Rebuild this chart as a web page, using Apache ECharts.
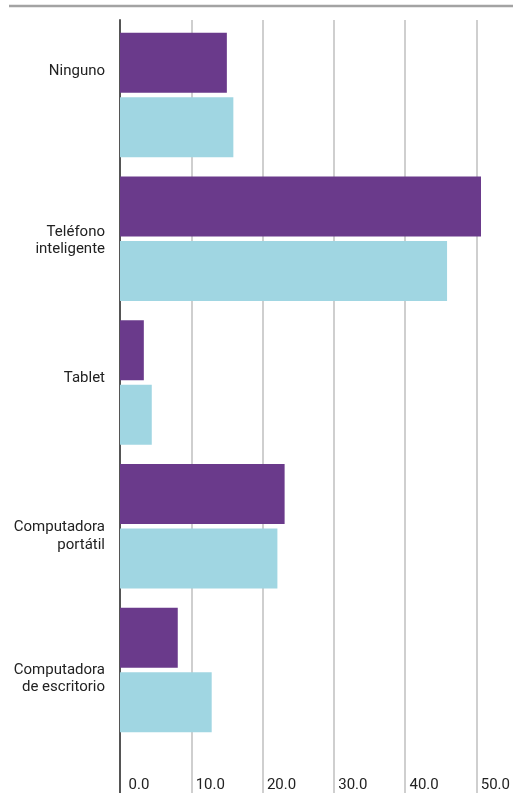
<!DOCTYPE html>
<html>
<head>
<meta charset="utf-8">
<script src="https://cdn.jsdelivr.net/npm/echarts@6/dist/echarts.min.js"></script>
<style>
  html, body { margin: 0; padding: 0; background: #ffffff; }
  #chart { width: 513px; height: 793px; }
</style>
</head>
<body>
<div id="chart"></div>
<script>
// Device categories, top to bottom
const categories = ['Ninguno', 'Teléfono\ninteligente', 'Tablet', 'Computadora\nportátil', 'Computadora\nde escritorio'];
// Two series of percentages per device
const seriesA = [14.8, 50.0, 3.3, 22.8, 8.0];
const seriesB = [15.7, 45.3, 4.4, 21.8, 12.7];
// Value axis ticks
const xTicks = [0, 10, 20, 30, 40, 50];
// Vertical nudge of each category label (px, positive = down)
const labelShift = [-24, 2, -4, 10, 9];

const FONT = 'Roboto, "Noto Sans", sans-serif';
const PURPLE = '#6a3a8b';
const BLUE = '#a0d6e2';

const chart = echarts.init(document.getElementById('chart'), null, { renderer: 'canvas' });

// Spacer lines above or below a label move it off the band centre
const rich = {};
labelShift.forEach((s, i) => {
  rich['g' + i] = { fontSize: 1, lineHeight: Math.max(1, Math.abs(s) * 2) };
});
function categoryLabel(value, index) {
  const s = labelShift[index];
  if (!s) return value;
  const spacer = '{g' + index + '| }';
  return s > 0 ? spacer + '\n' + value : value + '\n' + spacer;
}

chart.setOption({
  animation: false,
  backgroundColor: '#ffffff',
  graphic: [{
    type: 'line',
    shape: { x1: 9, y1: 6, x2: 513, y2: 6 },
    style: { stroke: '#a3a3a3', lineWidth: 2.5 },
    silent: true
  }],
  grid: [
    { left: 120, right: 32, top: 23, bottom: 51.25 },
    { left: 120, right: 32, top: 20, bottom: 0 }
  ],
  xAxis: [
    { gridIndex: 0, type: 'value', min: xTicks[0], max: xTicks[xTicks.length - 1], show: false },
    {
      gridIndex: 1, type: 'value',
      min: xTicks[0], max: xTicks[xTicks.length - 1], interval: xTicks[1] - xTicks[0],
      axisLine: { show: false },
      axisTick: { show: false },
      splitLine: { show: true, showMinLine: false, lineStyle: { color: '#cfcfcf', width: 2 } },
      axisLabel: {
        inside: true,
        margin: 0,
        align: 'center',
        padding: [0, 0, 0, 38],
        color: '#222222',
        fontFamily: FONT,
        fontSize: 15,
        formatter: v => v.toFixed(1),
        showMaxLabel: true
      }
    }
  ],
  yAxis: [
    {
      gridIndex: 0, type: 'category', inverse: true, data: categories,
      axisLine: { show: false },
      axisTick: { show: false },
      splitLine: { show: false },
      axisLabel: {
        interval: 0,
        margin: 15,
        color: '#222222',
        fontFamily: FONT,
        fontSize: 15,
        lineHeight: 17.5,
        align: 'right',
        formatter: categoryLabel,
        rich: rich
      }
    },
    {
      gridIndex: 1, type: 'value', offset: 3,
      axisLine: { show: true, lineStyle: { color: '#555555', width: 2 } },
      axisTick: { show: false },
      axisLabel: { show: false },
      splitLine: { show: false }
    }
  ],
  series: [
    {
      type: 'bar', xAxisIndex: 0, yAxisIndex: 0,
      data: seriesA, barWidth: 60, barGap: '7.5%',
      itemStyle: { color: PURPLE }, z: 3
    },
    {
      type: 'bar', xAxisIndex: 0, yAxisIndex: 0,
      data: seriesB, barWidth: 60, barGap: '7.5%',
      itemStyle: { color: BLUE }, z: 3
    }
  ]
});
</script>
</body>
</html>
